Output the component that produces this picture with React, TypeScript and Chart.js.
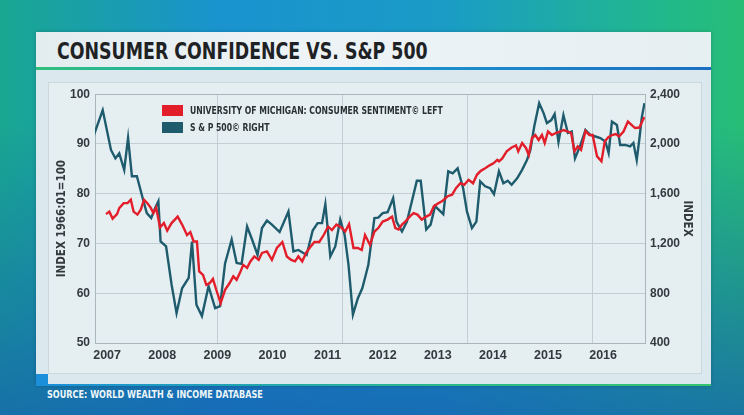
import React, { useEffect, useRef } from "react";
import { Chart, registerables } from "chart.js";

Chart.register(...registerables);

// ---------- DATA ----------
const yearTicks = [2007, 2008, 2009, 2010, 2011, 2012, 2013, 2014, 2015, 2016];
const gridYears = [2009.0, 2011.27, 2013.54, 2015.81];
const xMin = 2006.78;
const xMax = 2016.76;

// University of Michigan consumer sentiment (left axis)
const sentimentYears = [
  2006.98, 2007.04, 2007.1, 2007.18, 2007.22, 2007.3, 2007.37, 2007.43, 2007.48, 2007.55,
  2007.61, 2007.67, 2007.73, 2007.79, 2007.84, 2007.89, 2007.96, 2008.03, 2008.09, 2008.17,
  2008.28, 2008.36, 2008.45, 2008.51, 2008.57, 2008.63, 2008.67, 2008.74, 2008.8, 2008.86,
  2008.92, 2008.98, 2009.06, 2009.14, 2009.22, 2009.29, 2009.35, 2009.41, 2009.47, 2009.54,
  2009.6, 2009.67, 2009.75, 2009.81, 2009.9, 2009.99, 2010.08, 2010.18, 2010.26, 2010.34,
  2010.41, 2010.47, 2010.54, 2010.61, 2010.68, 2010.76, 2010.85, 2010.93, 2011.01, 2011.08,
  2011.16, 2011.25, 2011.32, 2011.39, 2011.47, 2011.55, 2011.62, 2011.68, 2011.77, 2011.85,
  2011.92, 2012.0, 2012.09, 2012.17, 2012.23, 2012.29, 2012.35, 2012.41, 2012.49, 2012.56,
  2012.63, 2012.71, 2012.79, 2012.86, 2012.93, 2013.01, 2013.09, 2013.18, 2013.26, 2013.33,
  2013.41, 2013.48, 2013.56, 2013.64, 2013.71, 2013.78, 2013.86, 2013.94, 2014.01, 2014.08,
  2014.11, 2014.17, 2014.25, 2014.34, 2014.42, 2014.46, 2014.53, 2014.6, 2014.65, 2014.71,
  2014.77, 2014.83, 2014.89, 2014.94, 2015.0, 2015.07, 2015.14, 2015.22, 2015.28, 2015.36,
  2015.42, 2015.48, 2015.54, 2015.6, 2015.68, 2015.75, 2015.81, 2015.89, 2015.97, 2016.03,
  2016.09, 2016.16, 2016.23, 2016.29, 2016.37, 2016.45, 2016.52, 2016.58, 2016.66, 2016.72,
  2016.75,
];
const sentimentValues = [
  75.9, 76.4, 75.0, 75.9, 77.1, 78.1, 78.1, 78.8, 76.4, 75.8,
  76.8, 78.8, 78.1, 77.2, 76.1, 77.2, 73.2, 74.1, 72.6, 74.1,
  75.4, 73.8, 71.7, 72.3, 70.4, 70.4, 64.4, 63.7, 61.7, 62.0,
  62.9, 60.7, 58.0, 60.7, 62.0, 63.4, 62.7, 64.1, 65.7, 65.1,
  66.4, 67.4, 66.7, 68.1, 68.4, 66.7, 69.1, 70.3, 67.4, 66.7,
  66.4, 67.4, 66.4, 68.1, 69.2, 70.3, 70.3, 71.7, 73.4, 72.7,
  73.8, 73.2, 72.4, 73.9, 69.1, 69.1, 68.7, 71.7, 69.7, 72.4,
  73.1, 74.4, 74.8, 75.4, 73.1, 72.8, 73.8, 74.4, 75.4, 76.1,
  75.8, 74.8, 75.4, 75.8, 77.5, 78.1, 78.6, 79.5, 79.8, 81.1,
  82.1, 81.8, 82.8, 82.1, 83.8, 84.6, 85.1, 85.7, 86.1, 86.8,
  86.5, 87.1, 88.5, 89.3, 89.7, 88.5, 90.2, 89.2, 87.8, 91.2,
  91.8, 90.8, 91.8, 90.2, 92.5, 91.8, 92.2, 92.5, 92.8, 92.5,
  92.2, 88.5, 89.5, 88.8, 92.6, 91.8, 91.8, 87.5, 86.5, 90.5,
  91.3, 91.8, 92.0, 91.5, 92.5, 94.5, 93.8, 93.2, 93.3, 94.8,
  95.4,
];

// S&P 500 (right axis)
const sp500Years = [
  2006.76, 2006.92, 2007.07, 2007.15, 2007.22, 2007.31, 2007.38, 2007.45, 2007.54, 2007.66,
  2007.72, 2007.8, 2007.87, 2007.93, 2007.97, 2008.07, 2008.17, 2008.26, 2008.36, 2008.48,
  2008.54, 2008.62, 2008.72, 2008.84, 2008.96, 2009.05, 2009.14, 2009.26, 2009.35, 2009.44,
  2009.54, 2009.63, 2009.73, 2009.81, 2009.9, 2009.99, 2010.13, 2010.29, 2010.38, 2010.47,
  2010.62, 2010.73, 2010.82, 2010.9, 2010.96, 2011.05, 2011.14, 2011.23, 2011.31, 2011.38,
  2011.46, 2011.55, 2011.63, 2011.68, 2011.74, 2011.85, 2011.92, 2012.0, 2012.09, 2012.19,
  2012.25, 2012.35, 2012.44, 2012.53, 2012.62, 2012.69, 2012.79, 2012.87, 2012.95, 2013.1,
  2013.19, 2013.27, 2013.36, 2013.46, 2013.53, 2013.62, 2013.7, 2013.77, 2013.86, 2013.95,
  2014.02, 2014.11, 2014.19, 2014.27, 2014.34, 2014.44, 2014.53, 2014.62, 2014.68, 2014.75,
  2014.84, 2014.92, 2014.98, 2015.06, 2015.12, 2015.19, 2015.28, 2015.36, 2015.43, 2015.49,
  2015.58, 2015.68, 2015.77, 2015.86, 2015.95, 2016.04, 2016.1, 2016.16, 2016.25, 2016.31,
  2016.4, 2016.49, 2016.55, 2016.61, 2016.66, 2016.7, 2016.75,
];
const sp500Values = [
  2072, 2272, 1952, 1884, 1924, 1792, 2048, 1740, 1740, 1540,
  1444, 1404, 1484, 1540, 1216, 1176, 868, 640, 840, 924,
  1216, 708, 616, 856, 680, 696, 1040, 1232, 1044, 1036,
  1336, 1232, 1108, 1324, 1384, 1352, 1292, 1456, 1136, 1148,
  1108, 1304, 1364, 1364, 1516, 1096, 1176, 1392, 1268, 1028,
  628, 760, 840, 924, 1028, 1404, 1408, 1444, 1452, 1564,
  1376, 1296, 1376, 1540, 1704, 1704, 1312, 1352, 1500, 1436,
  1780, 1764, 1804, 1644, 1456, 1324, 1376, 1700, 1660, 1644,
  1596, 1780, 1684, 1704, 1672, 1724, 1792, 1872, 1952, 2140,
  2328, 2248, 2168, 2192, 2240, 2016, 2232, 2088, 2100, 1884,
  1980, 2112, 2072, 2060, 2048, 2020, 1928, 2180, 2152, 1992,
  1992, 1980, 2008, 1872, 2048, 2208, 2328,
];

const leftMin = 50, leftMax = 100, leftStep = 10;
const rightMin = 400, rightMax = 2400, rightStep = 400;

const seriesLabels = [
  "UNIVERSITY OF MICHIGAN: CONSUMER SENTIMENT\u00A9 LEFT",
  "S & P 500\u00A9 RIGHT",
];

// ---------- STYLE ----------
const RED = "#e31e2b";
const TEAL = "#1e5b6d";
const GRID = "#c2ced3";
const FRAME = "#a9b7bd";
const TEXT = "#33393d";
const CONDENSED = "'DejaVu Sans Condensed', 'Liberation Sans Narrow', sans-serif";
const TICKFONT = "'Liberation Sans', Arial, sans-serif";

function ChartCanvas() {
  const ref = useRef<HTMLCanvasElement | null>(null);
  useEffect(() => {
    if (!ref.current) return;
    Chart.defaults.font.family = TICKFONT;
    const chart = new Chart(ref.current, {
      type: "line",
      data: {
        datasets: [
          {
            label: seriesLabels[0],
            data: sentimentYears.map((x, i) => ({ x, y: sentimentValues[i] })),
            borderColor: RED,
            borderWidth: 2.4,
            pointRadius: 0,
            tension: 0,
            yAxisID: "y",
            xAxisID: "x",
            order: 0,
          },
          {
            label: seriesLabels[1],
            data: sp500Years.map((x, i) => ({ x, y: sp500Values[i] })),
            borderColor: TEAL,
            borderWidth: 2.4,
            pointRadius: 0,
            tension: 0,
            yAxisID: "y1",
            xAxisID: "x",
            order: 1,
          },
        ],
      },
      options: {
        animation: false,
        responsive: false,
        maintainAspectRatio: false,
        layout: { padding: { top: 12, left: 0, right: 0, bottom: 0 } },
        plugins: { legend: { display: false }, tooltip: { enabled: false } },
        scales: {
          x: {
            type: "linear",
            position: "bottom",
            min: xMin,
            max: xMax,
            afterBuildTicks: (s: any) => {
              s.ticks = yearTicks.map((v) => ({ value: v }));
            },
            afterFit: (s: any) => {
              s.height = 31;
            },
            grid: { display: false, drawTicks: false },
            border: { display: true, color: FRAME, width: 1 },
            ticks: {
              padding: 5,
              color: TEXT,
              autoSkip: false,
              maxRotation: 0,
              font: { size: 12.5, weight: "bold", family: TICKFONT },
              callback: (v: any) => String(v),
            },
          },
          xg: {
            type: "linear",
            position: "top",
            min: xMin,
            max: xMax,
            afterBuildTicks: (s: any) => {
              s.ticks = gridYears.map((v) => ({ value: v }));
            },
            afterFit: (s: any) => {
              s.height = 0;
            },
            grid: { color: GRID, lineWidth: 1, drawTicks: false },
            border: { display: true, color: FRAME, width: 1 },
            ticks: { display: false },
          },
          y: {
            type: "linear",
            position: "left",
            min: leftMin,
            max: leftMax,
            afterFit: (s: any) => {
              s.width = 47;
            },
            grid: { color: GRID, lineWidth: 1, drawTicks: false },
            border: { display: true, color: FRAME, width: 1 },
            ticks: {
              stepSize: leftStep,
              padding: 5,
              color: TEXT,
              font: { size: 12, weight: "bold", family: TICKFONT },
            },
            title: {
              display: true,
              text: "INDEX 1966:01=100",
              color: TEXT,
              padding: { top: 7, bottom: 0 },
              font: { size: 11.5, weight: "bold", family: CONDENSED },
            },
          },
          y1: {
            type: "linear",
            position: "right",
            min: rightMin,
            max: rightMax,
            afterFit: (s: any) => {
              s.width = 57;
            },
            grid: { display: false, drawTicks: false },
            border: { display: true, color: FRAME, width: 1 },
            ticks: {
              stepSize: rightStep,
              padding: 5,
              color: TEXT,
              font: { size: 12, weight: "bold", family: TICKFONT },
              callback: (v: any) => Number(v).toLocaleString("en-US"),
            },
            title: {
              display: true,
              text: "INDEX",
              color: TEXT,
              padding: { top: 8, bottom: 0 },
              font: { size: 11.5, weight: "bold", family: CONDENSED },
            },
          },
        },
      },
    } as any);
    return () => chart.destroy();
  }, []);
  return (
    <canvas
      ref={ref}
      width={654}
      height={292}
      style={{ position: "absolute", left: 48, top: 82, width: 654, height: 292 }}
    />
  );
}

export default function App() {
  return (
    <div
      style={{
        position: "fixed",
        left: 0,
        top: 0,
        width: 744,
        height: 415,
        overflow: "hidden",
        fontFamily: CONDENSED,
        background:
          "linear-gradient(180deg, rgba(0,0,0,0) 30%, rgba(22,95,175,0.75) 100%), linear-gradient(90deg, #19a791 0%, #1a93cf 30%, #1a9cc6 60%, #22b98a 90%, #27bd76 100%)",
      }}
    >
      {/* panel */}
      <div
        style={{
          position: "absolute",
          left: 36,
          top: 32,
          width: 675,
          height: 354,
          background: "#dbe8ed",
          boxShadow: "0 0 4px rgba(0,0,0,0.2)",
        }}
      />
      {/* title bar */}
      <div
        style={{
          position: "absolute",
          left: 36,
          top: 32,
          width: 675,
          height: 35,
          background: "linear-gradient(90deg, #e3ecef 0%, #eef4f6 40%, #e6eff2 100%)",
        }}
      />
      <div
        style={{
          position: "absolute",
          left: 57,
          top: 40,
          fontSize: 23,
          lineHeight: "23px",
          fontWeight: "bold",
          color: "#1f2224",
          whiteSpace: "nowrap",
          transform: "scaleX(0.84)",
          transformOrigin: "left center",
        }}
      >
        CONSUMER CONFIDENCE VS. S&amp;P 500
      </div>
      {/* coloured rule under title */}
      <div
        style={{
          position: "absolute",
          left: 36,
          top: 67,
          width: 675,
          height: 3,
          background: "linear-gradient(90deg, #2fc07c 0%, #1a9ad0 45%, #1b6fc2 100%)",
        }}
      />
      {/* inner frame */}
      <div
        style={{
          position: "absolute",
          left: 48,
          top: 82,
          width: 652,
          height: 290,
          background: "#e5eff2",
          border: "1px solid #cbd8dd",
        }}
      />
      {/* bottom accents */}
      <div style={{ position: "absolute", left: 36, top: 374, width: 12, height: 12, background: "#1b8fda" }} />
      <div
        style={{
          position: "absolute",
          left: 36,
          top: 384,
          width: 675,
          height: 2,
          background: "linear-gradient(90deg, #1b8fda 0%, #2ab98a 60%, #35c46f 100%)",
        }}
      />
      <ChartCanvas />
      {/* legend */}
      {seriesLabels.map((label, i) => (
        <div
          key={label}
          style={{
            position: "absolute",
            left: 162,
            top: i === 0 ? 105 : 122,
            height: 11,
            display: "flex",
            alignItems: "center",
            whiteSpace: "nowrap",
          }}
        >
          <div style={{ width: 21, height: 11, background: i === 0 ? RED : TEAL, marginRight: 7, flex: "none" }} />
          <span
            style={{
              display: "inline-block",
              fontSize: 11,
              lineHeight: "11px",
              fontWeight: "bold",
              color: "#2b3033",
              transform: "scaleX(0.78)",
              transformOrigin: "left center",
            }}
          >
            {label}
          </span>
        </div>
      ))}
      {/* source */}
      <div
        style={{
          position: "absolute",
          left: 47,
          top: 389,
          fontSize: 11,
          lineHeight: "12px",
          fontWeight: "bold",
          color: "#eef6f8",
          whiteSpace: "nowrap",
          transform: "scaleX(0.82)",
          transformOrigin: "left center",
        }}
      >
        SOURCE: WORLD WEALTH &amp; INCOME DATABASE
      </div>
    </div>
  );
}
